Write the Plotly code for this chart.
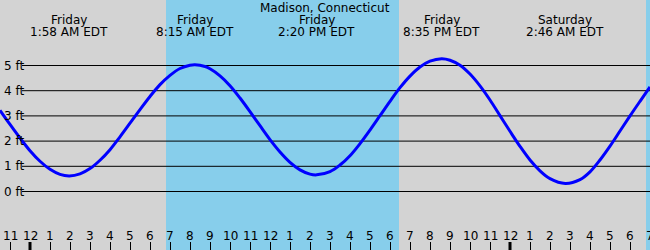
import plotly.graph_objects as go

# Tide curve (hours from Friday 00:00, feet)
hours = [-1.5, -1, -0.5, 0, 0.5, 1, 1.5, 1.967, 2.5, 3, 3.5, 4, 4.5, 5, 5.5, 6,
         6.5, 7, 7.5, 8, 8.25, 8.75, 9, 9.5, 10, 10.5, 11, 11.5, 12, 12.5, 13,
         13.5, 14, 14.333, 15, 15.5, 16, 16.5, 17, 17.5, 18, 18.5, 19, 19.5, 20,
         20.583, 21, 21.5, 22, 22.5, 23, 23.5, 24, 24.5, 25, 25.5, 26, 26.767,
         27.5, 28, 28.5, 29, 29.5, 30, 30.5, 31]
heights = [3.22, 2.66, 2.12, 1.62, 1.20, 0.88, 0.68, 0.62, 0.70, 0.91, 1.24, 1.66,
           2.17, 2.71, 3.25, 3.77, 4.24, 4.61, 4.88, 5.01, 5.03, 4.96, 4.87, 4.59,
           4.20, 3.71, 3.17, 2.61, 2.06, 1.57, 1.16, 0.86, 0.69, 0.66, 0.79, 1.05,
           1.42, 1.90, 2.44, 3.01, 3.58, 4.12, 4.58, 4.94, 5.17, 5.27, 5.21, 5.01,
           4.66, 4.19, 3.63, 3.01, 2.39, 1.79, 1.25, 0.82, 0.51, 0.32, 0.47, 0.78,
           1.25, 1.80, 2.40, 3.00, 3.58, 4.15]

# Extremes shown in the header
ext_times = [1.967, 8.25, 14.333, 20.583, 26.767]
ext_days = ["Friday", "Friday", "Friday", "Friday", "Saturday"]
ext_labels = ["1:58 AM EDT", "8:15 AM EDT", "2:20 PM EDT", "8:35 PM EDT", "2:46 AM EDT"]
title_text = "Madison, Connecticut"

# Daylight periods
day_start = [6.8, 30.8]
day_end = [18.45, 32.0]

# Axes
x_range = [-1.5, 31.0]
ft_levels = [0, 1, 2, 3, 4, 5]
ft_labels = ["0 ft", "1 ft", "2 ft", "3 ft", "4 ft", "5 ft"]
tick_hours = list(range(-1, 32))
tick_labels = ["11", "12", "1", "2", "3", "4", "5", "6", "7", "8", "9", "10", "11",
               "12", "1", "2", "3", "4", "5", "6", "7", "8", "9", "10", "11",
               "12", "1", "2", "3", "4", "5", "6", "7"]
midnights = [0, 24]

W, H = 650, 250
px_per_ft = 25.2
zero_px = 191.5
y_range = [(zero_px - H) / px_per_ft, zero_px / px_per_ft]

FONT = "DejaVu Sans"
GRAY = "#d3d3d3"
BLUE = "#87ceeb"

fig = go.Figure()
fig.add_trace(go.Scatter(x=hours, y=heights, mode="lines",
                         line=dict(color="#0000ff", width=3, shape="spline", smoothing=1.0),
                         hoverinfo="skip", showlegend=False))

shapes = []
for s, e in zip(day_start, day_end):
    shapes.append(dict(type="rect", xref="x", yref="paper", x0=s, x1=e, y0=0, y1=1,
                       fillcolor=BLUE, line=dict(width=0), layer="below"))
for lv in ft_levels:
    shapes.append(dict(type="line", xref="paper", yref="y", x0=22 / W, x1=1, y0=lv, y1=lv,
                       line=dict(color="black", width=1), layer="below"))
for m in midnights:
    shapes.append(dict(type="line", xref="x", yref="paper", x0=m, x1=m, y0=0, y1=8 / H,
                       line=dict(color="black", width=3), layer="above"))

ann = []
def pp(py):
    return 1 - py / H

ann.append(dict(text=title_text, xref="paper", yref="paper", x=0.5, y=pp(7.5),
                xanchor="center", yanchor="middle", showarrow=False))
for t, d, l in zip(ext_times, ext_days, ext_labels):
    ann.append(dict(text=d, xref="x", yref="paper", x=t, y=pp(19.8),
                    xanchor="center", yanchor="middle", showarrow=False))
    ann.append(dict(text=l, xref="x", yref="paper", x=t, y=pp(31.5),
                    xanchor="center", yanchor="middle", showarrow=False))
for lv, lb in zip(ft_levels, ft_labels):
    ann.append(dict(text=lb, xref="paper", yref="y", x=2 / W, y=lv,
                    xanchor="left", yanchor="middle", showarrow=False))
for th, tl in zip(tick_hours, tick_labels):
    ann.append(dict(text=tl, xref="x", yref="paper", x=th, y=pp(235.8),
                    xanchor="center", yanchor="middle", showarrow=False))

fig.update_layout(
    width=W, height=H, margin=dict(l=0, r=0, t=0, b=0, pad=0),
    paper_bgcolor=GRAY, plot_bgcolor=GRAY,
    font=dict(family=FONT, size=12, color="black"),
    shapes=shapes, annotations=ann, showlegend=False,
    xaxis=dict(range=x_range, showgrid=False, zeroline=False, showline=False,
               tickmode="array", tickvals=tick_hours, ticks="inside", ticklen=8,
               tickwidth=1, tickcolor="black", showticklabels=False, fixedrange=True),
    yaxis=dict(range=y_range, showgrid=False, zeroline=False, showline=False,
               showticklabels=False, ticks="", fixedrange=True),
)
fig.write_html("out.html", config={"displayModeBar": False})
